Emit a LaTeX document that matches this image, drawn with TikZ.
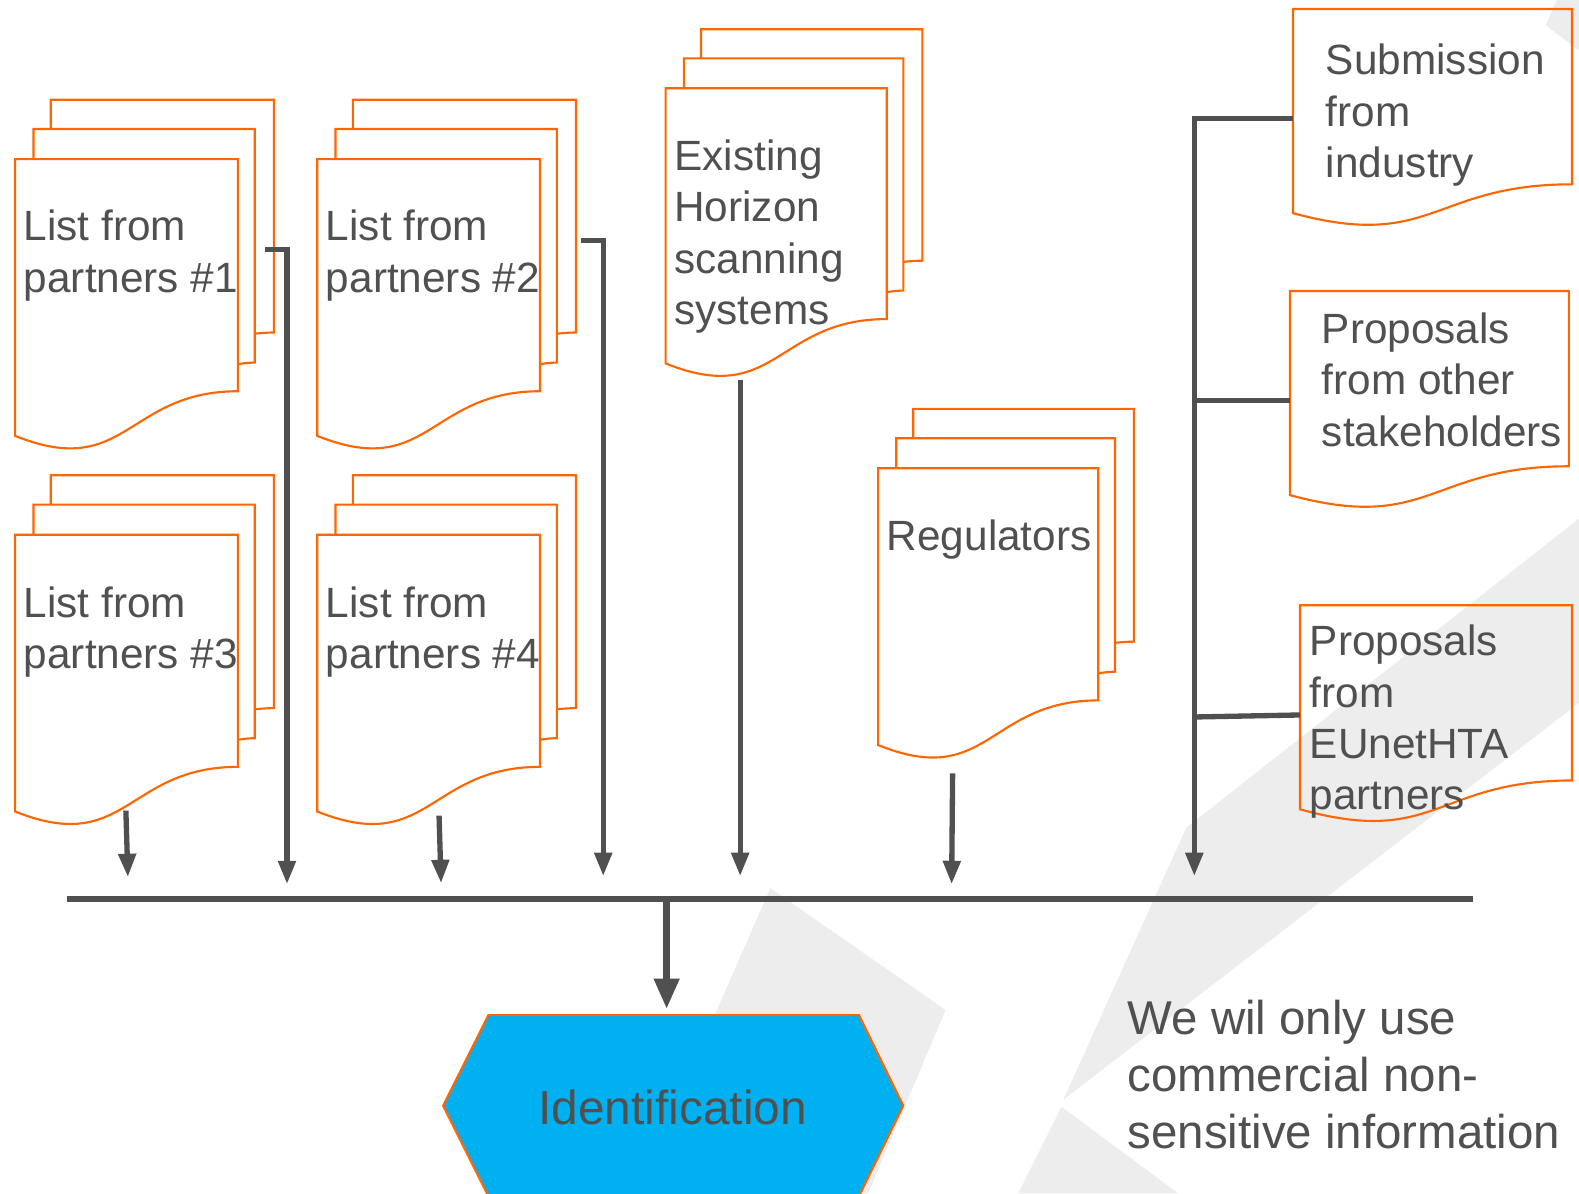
\documentclass[tikz,border=0pt]{standalone}
\usepackage{fontspec}
\setmainfont{Liberation Sans}
\usetikzlibrary{arrows.meta}
\definecolor{bgray}{RGB}{237,237,237}
\definecolor{dorange}{RGB}{255,102,0}
\definecolor{conn}{RGB}{80,80,80}
\definecolor{txt}{RGB}{80,80,80}
\definecolor{cyanfill}{RGB}{0,176,240}
\tikzset{
  docline/.style={draw=dorange,line width=0.6pt},
  doctext/.style={font=\fontsize{11.95pt}{14.5pt}\selectfont,text=txt,align=left,anchor=north west,inner sep=0pt},
  conline/.style={draw=conn,line width=1.5pt},
  conarrow/.style={conline,-{Triangle[width=4.8pt,length=6.6pt]}},
  bigarrow/.style={draw=conn,line width=2pt,-{Triangle[width=6.8pt,length=8.6pt]}},
}
\newcommand\multidoc[4]{%
  \begin{scope}[shift={(#1,#2)},xscale=#3,yscale=#4]
    \filldraw[docline,fill=white] (0.1376,0) -- (1,0) -- (1,0.6663) .. controls (0.9630,0.6663) and (0.9259,0.6698) .. (0.9259,0.6698) -- (0.1376,0.6698) -- cycle;
    \filldraw[docline,fill=white] (0.0709,0.0840) -- (0.9259,0.0840) -- (0.9259,0.7524) .. controls (0.8934,0.7524) and (0.8609,0.7570) .. (0.8609,0.7570) -- (0.0709,0.7570) -- cycle;
    \filldraw[docline,fill=white] (0,0.1701) -- (0.8609,0.1701) -- (0.8609,0.8344) .. controls (0.4305,0.8344) and (0.4305,1.0899) .. (0,0.9621) -- cycle;
  \end{scope}}
\newcommand\singledoc[4]{%
  \begin{scope}[shift={(#1,#2)},xscale=#3,yscale=#4]
    \draw[docline] (0,0) -- (1,0) -- (1,0.802) .. controls (0.5,0.802) and (0.5,1.1075) .. (0,0.934) -- cycle;
  \end{scope}}
\begin{document}
\begin{tikzpicture}[x=0.01cm,y=-0.01cm]
\useasboundingbox[fill=white] (0,0) rectangle (1568,1185);
% background shapes
\fill[bgray] (765,882) -- (939,1003) -- (862,1185) -- (632,1185) -- cycle;
\fill[bgray] (1056,1092) -- (1178,822) -- (1568,515) -- (1568,698) -- cycle;
\fill[bgray] (1054,1099) -- (1170,1185) -- (1011,1185) -- cycle;
\fill[bgray] (1535,25) -- (1546,0) -- (1568,0) -- (1568,50) -- cycle;
% documents
\multidoc{15}{99}{257}{347}
\multidoc{315}{99}{257}{347}
\multidoc{15}{472}{257}{347}
\multidoc{315}{472}{257}{347}
\multidoc{661}{29}{255}{345}
\multidoc{872}{406}{254}{347}
\singledoc{1284}{9}{277}{217}
\singledoc{1281}{289}{277}{217}
\singledoc{1291}{601}{270}{217}
% texts
\node[doctext] (p1) at (23,208) {List from\\partners \#1};
\node[doctext] (p2) at (323,208) {List from\\partners \#2};
\node[doctext] (p3) at (23,582) {List from\\partners \#3};
\node[doctext] (p4) at (323,582) {List from\\partners \#4};
\node[doctext] (hz) at (669,138) {Existing\\Horizon\\scanning\\systems};
\node[doctext] (rg) at (880,516) {Regulators};
\node[doctext] (sub) at (1316,43) {Submission\\from\\industry};
\node[doctext] (stk) at (1312,310) {Proposals\\from other\\stakeholders};
\node[doctext] (eun) at (1300,620) {Proposals\\from\\EUnetHTA\\partners};
% coordinates
\coordinate (busL) at (67,893);
\coordinate (busR) at (1463,893);
\coordinate (p3out) at (125,805);  \coordinate (p3in) at (127,871);
\coordinate (p1out) at (263,248);  \coordinate (p1in) at (285,878);
\coordinate (p4out) at (436,810);  \coordinate (p4in) at (438,877);
\coordinate (p2out) at (577,239);  \coordinate (p2in) at (599,870);
\coordinate (hzout) at (735,377);  \coordinate (hzin) at (735,870);
\coordinate (rgout) at (946,768);  \coordinate (rgin) at (945,878);
\coordinate (subout) at (1284,118); \coordinate (trtop) at (1186,118);
\coordinate (stkout) at (1281,398); \coordinate (stkj) at (1186,398);
\coordinate (eunout) at (1291,710); \coordinate (eunj) at (1186,712);
\coordinate (trin) at (1186,870);
\coordinate (busmid) at (662,893); \coordinate (idin) at (662,1002);
% connectors
\draw[conarrow] (p3out) -- (p3in);
\draw[conarrow] (p1out) -| (p1in);
\draw[conarrow] (p4out) -- (p4in);
\draw[conarrow] (p2out) -| (p2in);
\draw[conarrow] (hzout) -- (hzin);
\draw[conarrow] (rgout) -- (rgin);
\draw[conarrow] (subout) -- (trtop) -- (trin);
\draw[conline] (stkout) -- (stkj);
\draw[conline] (eunout) -- (eunj);
\draw[draw=conn,line width=1.8pt] (busL) -- (busR);
\draw[bigarrow] (busmid) -- (idin);
% identification hexagon
\filldraw[fill=cyanfill,draw=dorange,line width=0.6pt] (485,1008) -- (853,1008) -- (897,1098) -- (853,1188) -- (485,1188) -- (440,1098) -- cycle;
\node[font=\fontsize{13.5pt}{16pt}\selectfont,text=txt,inner sep=0pt] (ident) at (668,1100) {Identification};
% note
\node[font=\fontsize{13.4pt}{16.2pt}\selectfont,text=txt,align=left,anchor=north west,inner sep=0pt] (note) at (1119,992) {We wil only use\\commercial non-\\sensitive information};
\end{tikzpicture}
\end{document}
